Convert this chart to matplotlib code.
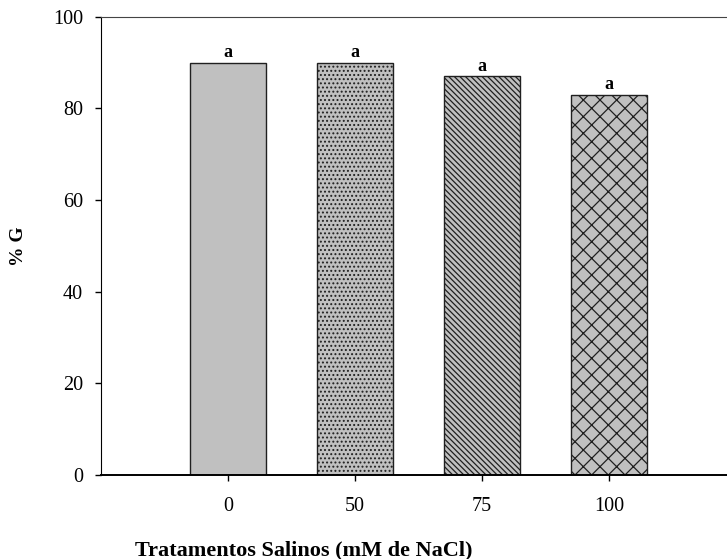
import numpy as np
from matplotlib import pyplot as plt

# dados de germinacao
tratamentos = ['0', '50', '75', '100']
germinacao = [90, 90, 87, 83]
letras = ['a', 'a', 'a', 'a']
hachuras = ['', '....', '\\\\\\\\\\\\', 'xx']

plt.rcParams['font.family'] = ['Liberation Serif', 'DejaVu Serif']
plt.rcParams['hatch.linewidth'] = 0.9

fig = plt.figure(figsize=(7.27, 5.59), dpi=100)
ax = fig.add_axes([0.139, 0.150, 0.861, 0.820])

x = np.arange(1, len(tratamentos) + 1)
bars = ax.bar(x, germinacao, width=0.6, color='#c0c0c0', edgecolor='#202020', linewidth=1.0)
for b, h in zip(bars, hachuras):
    b.set_hatch(h)

for xi, v, l in zip(x, germinacao, letras):
    ax.text(xi, v + 0.3, l, ha='center', va='bottom', fontsize=13, fontweight='bold')

ax.set_xlim(0, 4.93)
ax.set_ylim(0, 100)
ax.set_xticks(x)
ax.set_xticklabels(tratamentos)
ax.set_yticks(np.arange(0, 101, 20))
ax.tick_params(direction='out', length=4.5, width=1, labelsize=14.5, pad=8.5)
ax.tick_params(axis='x', pad=11)
ax.spines['right'].set_visible(False)
ax.spines['top'].set_color('#444444')
ax.spines['bottom'].set_linewidth(1.4)

ax.set_ylabel('% G', fontsize=14, fontweight='bold')
ax.yaxis.set_label_coords(-0.118, 0.5)
ax.set_xlabel('Tratamentos Salinos (mM de NaCl)', fontsize=16, fontweight='bold')
ax.xaxis.set_label_coords(0.324, -0.142)

fig.savefig('out.png', dpi=100)
